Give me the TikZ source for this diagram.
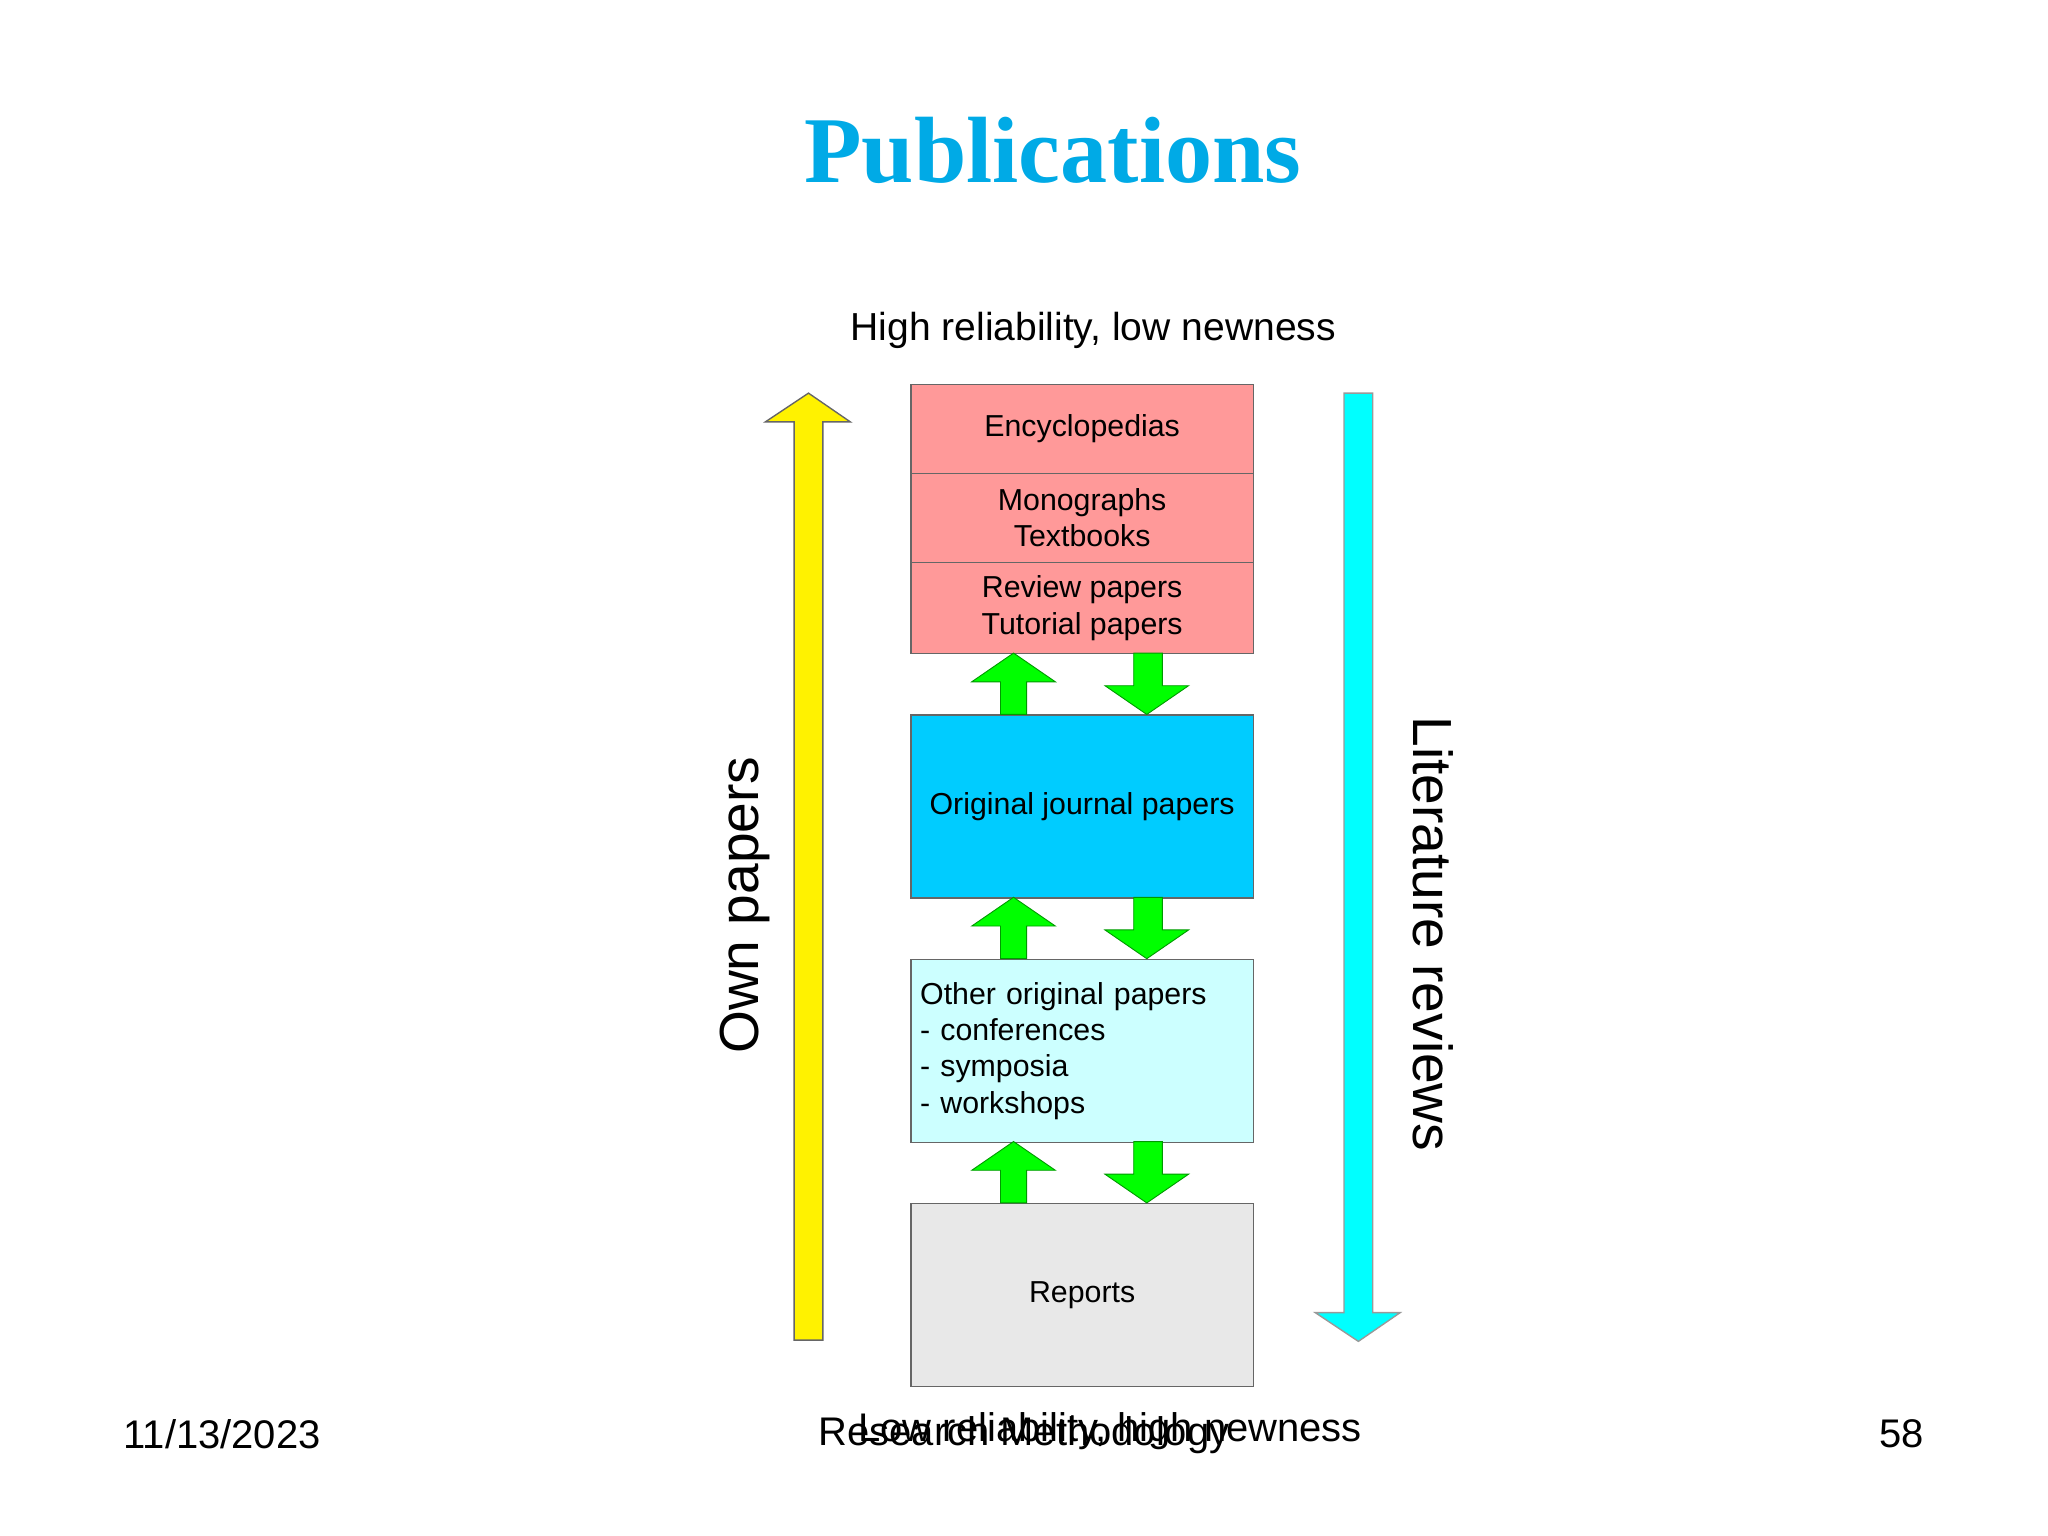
\documentclass[tikz,border=0pt]{standalone}
\usepackage{fontspec}
\setmainfont{Liberation Sans}
\newfontfamily\titlefont{Liberation Serif}
\begin{document}
\begin{tikzpicture}[x=0.01cm,y=-0.01cm,
 box/.style={draw=black!60,line width=0.3pt,minimum width=262*0.01cm,inner sep=0pt,font=\fontsize{6.6}{7.9}\selectfont,align=center},
 lbl/.style={font=\fontsize{8.5}{10}\selectfont},
 foot/.style={font=\fontsize{8.7}{10}\selectfont},
 garrow/.style={fill=green,draw=green!60!black,line width=0.2pt}]
\useasboundingbox (0,0) rectangle (1568,1176);
\node[font=\titlefont\bfseries\fontsize{20.5}{24}\selectfont,text={rgb,255:red,0;green,170;blue,230}] (title) at (806,115) {Publications};
\node[lbl] (top) at (837,253) {High reliability, low newness};
\node[box,fill={rgb,255:red,255;green,153;blue,153},minimum height=68*0.01cm,anchor=north west] (enc) at (697,294) {Encyclopedias};
\node[box,fill={rgb,255:red,255;green,153;blue,153},minimum height=68*0.01cm,anchor=north west] (mono) at (697,362) {Monographs\\Textbooks};
\node[box,fill={rgb,255:red,255;green,153;blue,153},minimum height=70*0.01cm,anchor=north west] (rev) at (697,430) {Review papers\\Tutorial papers};
\node[box,fill={rgb,255:red,0;green,204;blue,255},minimum height=140*0.01cm,anchor=north west] (orig) at (697,547) {Original journal papers};
\node[box,fill={rgb,255:red,204;green,255;blue,255},minimum height=140*0.01cm,anchor=north west,align=left,text width=248*0.01cm] (other) at (697,734) {Other original papers\\- conferences\\- symposia\\- workshops};
\node[box,fill=black!9,minimum height=140*0.01cm,anchor=north west] (rep) at (697,921) {Reports};
% green arrows
\foreach \t/\b in {500/547,687/734,874/921}{
 \draw[garrow] (766,\b) -- (766,\t+22) -- (744,\t+22) -- (776,\t) -- (808,\t+22) -- (786,\t+22) -- (786,\b) -- cycle;
 \draw[garrow] (868,\t) -- (868,\b-22) -- (846,\b-22) -- (878,\b) -- (910,\b-22) -- (890,\b-22) -- (890,\t) -- cycle;
}
% yellow
\draw[fill=yellow,draw=black!60,line width=0.3pt] (608,1026) -- (608,323) -- (586,323) -- (619,301) -- (651,323) -- (630,323) -- (630,1026) -- cycle;
% cyan
\draw[fill={rgb,255:red,0;green,255;blue,255},draw=black!40,line width=0.3pt] (1029,301) -- (1029,1005) -- (1007,1005) -- (1040,1027) -- (1072,1005) -- (1051,1005) -- (1051,301) -- cycle;
\node[font=\fontsize{12}{14}\selectfont,rotate=90] (own) at (570,693) {Own papers};
\node[font=\fontsize{12}{14}\selectfont,rotate=-90] (lit) at (1097,715) {Literature reviews};
\node[foot] (date) at (170,1098) {11/13/2023};
\node[foot] (rm) at (784,1099) {Research Methodology};
\node[foot] (low) at (850,1096) {Low reliability, high newness};
\node[foot] (pg) at (1456,1098) {58};
\end{tikzpicture}
\end{document}
